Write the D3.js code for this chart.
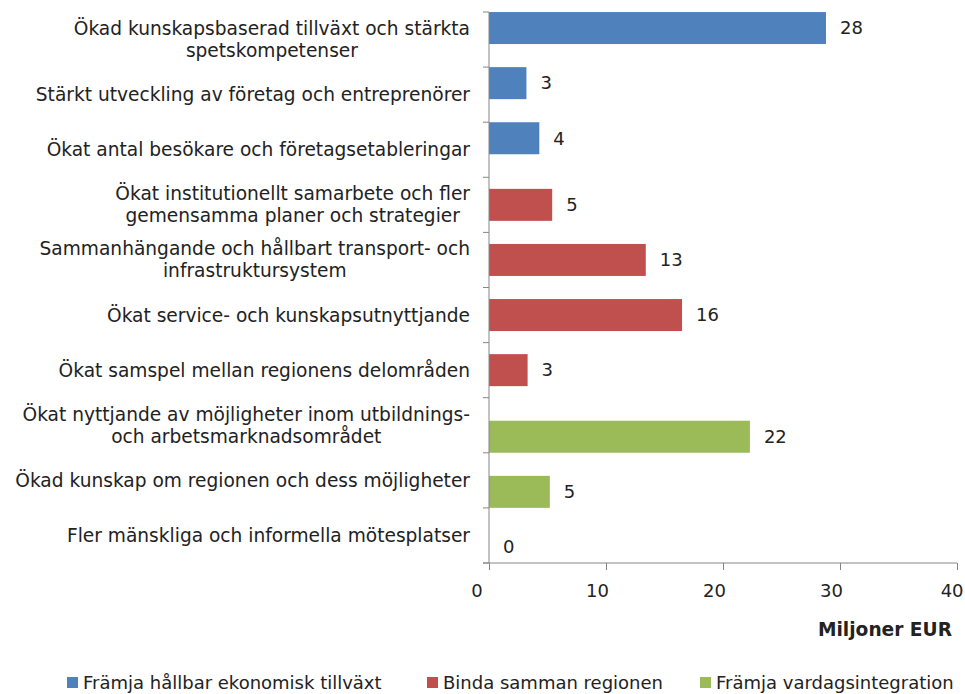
<!DOCTYPE html>
<meta charset="utf-8">
<style>
body { margin: 0; background: #fff; }
text { font-family: 'DejaVu Sans', Verdana, sans-serif; fill: #222; }
.axis path, .axis line { stroke: #868686; }
</style>
<svg width="965" height="694"></svg>
<script src="https://d3js.org/d3.v7.min.js"></script>
<script>
var categories = [
	["Ökad kunskapsbaserad tillväxt och stärkta", "spetskompetenser"],
	["Stärkt utveckling av företag och entreprenörer"],
	["Ökat antal besökare och företagsetableringar"],
	["Ökat institutionellt samarbete och fler", "gemensamma planer och strategier"],
	["Sammanhängande och hållbart transport- och", "infrastruktursystem"],
	["Ökat service- och kunskapsutnyttjande"],
	["Ökat samspel mellan regionens delområden"],
	["Ökat nyttjande av möjligheter inom utbildnings-", "och arbetsmarknadsområdet"],
	["Ökad kunskap om regionen och dess möjligheter"],
	["Fler mänskliga och informella mötesplatser"]
];
var values = [28.8, 3.2, 4.3, 5.4, 13.4, 16.5, 3.3, 22.3, 5.2, 0];
var valueLabels = ["28", "3", "4", "5", "13", "16", "3", "22", "5", "0"];
var seriesOf = [0, 0, 0, 1, 1, 1, 1, 2, 2, 2];
var seriesNames = ["Främja hållbar ekonomisk tillväxt", "Binda samman regionen", "Främja vardagsintegration"];
var colors = ["#4F81BD", "#C0504D", "#9BBB59"];
var xTicks = [0, 10, 20, 30, 40];

var svg = d3.select("svg");
var x = d3.scaleLinear().domain([0, 40]).range([489, 957]);
var y = d3.scaleBand().domain(d3.range(categories.length)).range([12, 563]);
var offset = d3.scalePoint().domain([0, 1, 2]).range([-11.5, 11.5]);
var barH = 32;
var labelSize = "18.6px";

// bars
svg.append("g").selectAll("rect")
	.data(values)
	.enter().append("rect")
	.attr("x", x(0))
	.attr("y", function(d, i) { return y(i) + y.bandwidth() / 2 + offset(seriesOf[i]) - barH / 2; })
	.attr("width", function(d) { return x(d) - x(0); })
	.attr("height", barH)
	.attr("fill", function(d, i) { return colors[seriesOf[i]]; });

// value labels
svg.append("g").selectAll("text")
	.data(values)
	.enter().append("text")
	.attr("x", function(d) { return x(d) + 14; })
	.attr("y", function(d, i) { return y(i) + y.bandwidth() / 2 + offset(seriesOf[i]); })
	.attr("dy", "0.35em")
	.style("font-size", "18px")
	.text(function(d, i) { return valueLabels[i]; });

// y axis line + ticks
var yAxis = svg.append("g").attr("class", "axis");
yAxis.append("line").attr("x1", x(0)).attr("x2", x(0)).attr("y1", 12).attr("y2", 563);
yAxis.selectAll(".yt")
	.data(d3.range(categories.length + 1))
	.enter().append("line")
	.attr("x1", x(0) - 6).attr("x2", x(0))
	.attr("y1", function(i) { return 12 + i * y.step(); })
	.attr("y2", function(i) { return 12 + i * y.step(); });

// x axis
var xAxis = svg.append("g")
	.attr("class", "axis")
	.attr("transform", "translate(0,563)")
	.call(d3.axisBottom(x).tickValues(xTicks).tickSize(7).tickSizeOuter(0));
xAxis.select(".domain").attr("d", "M" + (x(0) - 6) + ",0H" + x(40));
xAxis.selectAll("text")
	.style("font-size", "18px")
	.style("font-family", "'DejaVu Sans', Verdana, sans-serif")
	.attr("fill", "#222")
	.attr("dy", "1.35em")
	.attr("dx", function(d) { return d == 0 ? "-0.7em" : (d == 40 ? "-0.3em" : "-0.5em"); });

svg.append("text")
	.attr("x", 952).attr("y", 636)
	.attr("text-anchor", "end")
	.style("font-size", labelSize)
	.style("font-weight", "bold")
	.text("Miljoner EUR");

// category labels
var labels = svg.append("g");
categories.forEach(function(lines, i) {
	var g = labels.append("g");
	var cy = y(i) + y.bandwidth() / 2;
	var lh = 22;
	var ts = lines.map(function(l, j) {
		return g.append("text")
			.attr("y", cy + (j - (lines.length - 1) / 2) * lh)
			.attr("dy", "0.35em")
			.attr("text-anchor", "middle")
			.style("font-size", labelSize)
			.text(l);
	});
	var w = d3.max(ts, function(t) { return t.node().getComputedTextLength(); });
	ts.forEach(function(t) { t.attr("x", 470 - w / 2); });
});

// legend
var legendX = [67, 427, 700];
var legend = svg.append("g").selectAll("g")
	.data(seriesNames)
	.enter().append("g")
	.attr("transform", function(d, i) { return "translate(" + legendX[i] + ",677)"; });
legend.append("rect").attr("width", 11).attr("height", 11).attr("fill", function(d, i) { return colors[i]; });
legend.append("text")
	.attr("x", 16).attr("y", 6).attr("dy", "0.35em")
	.style("font-size", "18px")
	.text(function(d) { return d; });
</script>
